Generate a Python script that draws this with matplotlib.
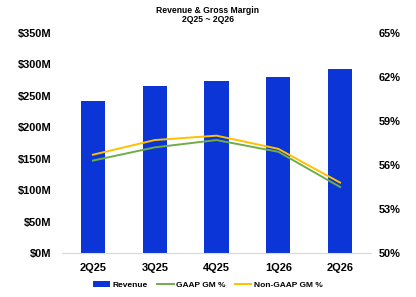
import numpy as np
import matplotlib
matplotlib.use("Agg")
import matplotlib.pyplot as plt
from matplotlib.ticker import FuncFormatter

plt.rcParams['font.family'] = ['Liberation Sans', 'DejaVu Sans']

quarters = ['2Q25', '3Q25', '4Q25', '1Q26', '2Q26']
revenue = [242, 265, 273, 280, 293]          # $M
gaap_gm = [56.3, 57.2, 57.7, 56.9, 54.5]     # %
non_gaap_gm = [56.7, 57.7, 58.0, 57.1, 54.8]  # %

fig = plt.figure(figsize=(4.16, 2.97), dpi=100)
ax = fig.add_axes([62 / 416, 1 - 253 / 297, 309 / 416, 220 / 297])
ax2 = ax.twinx()

x = np.arange(len(quarters))
ax.bar(x, revenue, width=0.39, color='#0B35D6', label='Revenue', zorder=2)
ax.set_ylim(0, 350)
ax.set_xlim(-0.5, len(quarters) - 0.5)
ax.set_yticks(np.arange(0, 351, 50))
ax.yaxis.set_major_formatter(FuncFormatter(lambda v, p: f'${v:.0f}M'))
ax.set_xticks(x)
ax.set_xticklabels(quarters)

ax2.plot(x, gaap_gm, color='#70AD47', lw=1.4, label='GAAP GM %', zorder=3)
ax2.plot(x, non_gaap_gm, color='#FFC000', lw=1.4, label='Non-GAAP GM %', zorder=3)
ax2.set_ylim(50, 65)
ax2.set_yticks(np.arange(50, 66, 3))
ax2.yaxis.set_major_formatter(FuncFormatter(lambda v, p: f'{v:.0f}%'))

for a in (ax, ax2):
    for s in a.spines.values():
        s.set_visible(False)
    a.tick_params(length=0, labelsize=7.9)
    for t in a.get_xticklabels() + a.get_yticklabels():
        t.set_fontweight('bold')
ax.spines['bottom'].set_visible(True)
ax.spines['bottom'].set_color('#D9D9D9')
ax.spines['bottom'].set_linewidth(0.8)
ax.tick_params(axis='y', pad=7.5)
ax.tick_params(axis='x', pad=7)
ax2.tick_params(axis='y', pad=5.5)

fig.text(0.5, 1 - 10.5 / 297, 'Revenue & Gross Margin', ha='center', va='center',
         fontsize=6.2, fontweight='bold')
fig.text(0.5, 1 - 20 / 297, '2Q25 ~ 2Q26', ha='center', va='center',
         fontsize=6.2, fontweight='bold')

h1, l1 = ax.get_legend_handles_labels()
h2, l2 = ax2.get_legend_handles_labels()
leg = fig.legend(h1 + h2, l1 + l2, loc='center', bbox_to_anchor=(0.5, 1 - 285 / 297),
                 ncol=3, frameon=False, fontsize=6, handlelength=2.0,
                 handleheight=0.6, columnspacing=1.1, handletextpad=0.3)
for t in leg.get_texts():
    t.set_fontweight('bold')

fig.savefig('out.png', dpi=100)
